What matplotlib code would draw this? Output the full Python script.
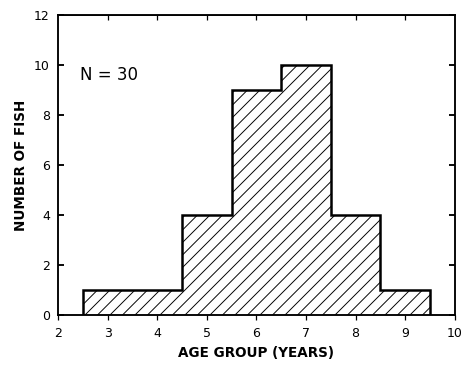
import numpy as np
import matplotlib
matplotlib.use('Agg')
import matplotlib.pyplot as plt

# age-frequency of the sampled fish
ages = [3, 4, 5, 6, 7, 8, 9]
counts = [1, 1, 4, 9, 10, 4, 1]
n_fish = 30

plt.rcParams['font.family'] = ['DejaVu Sans']
plt.rcParams['hatch.linewidth'] = 0.9
plt.rcParams['hatch.color'] = 'black'

fig = plt.figure(figsize=(6.2, 4.96), dpi=75)
ax = fig.add_axes([0.125, 0.153, 0.853, 0.807])

# hatched bars, outline drawn separately as one step line
ax.bar(ages, counts, width=1.0, color='white', edgecolor='black',
       linewidth=0, hatch='//')
edges = np.append(np.array(ages) - 0.5, ages[-1] + 0.5)
ax.stairs(counts, edges, baseline=0, color='black', linewidth=2.4)

ax.set_xlim(2, 10)
ax.set_ylim(0, 12)
ax.set_xticks(range(2, 11))
ax.set_yticks(range(0, 13, 2))

for s in ax.spines.values():
    s.set_linewidth(1.8)

ax.tick_params(axis='y', direction='in', length=6, width=1.8, labelsize=12,
               right=True, pad=8)
ax.tick_params(axis='x', direction='out', length=5, width=1.2, labelsize=12,
               top=False, pad=6)
# short inward ticks along the top edge
ax_top = ax.secondary_xaxis('top')
ax_top.set_xticks(range(3, 10))
ax_top.tick_params(direction='in', length=5, width=1.2, labelsize=0)
ax_top.set_xticklabels([])

ax.text(2.45, 9.6, 'N = %d' % n_fish, fontsize=16, va='center', ha='left')

ax.set_xlabel('AGE GROUP (YEARS)', fontsize=13, fontweight='bold', labelpad=6)
ax.set_ylabel('NUMBER OF FISH', fontsize=13, fontweight='bold', labelpad=6)

fig.savefig('out.png', dpi=75)
